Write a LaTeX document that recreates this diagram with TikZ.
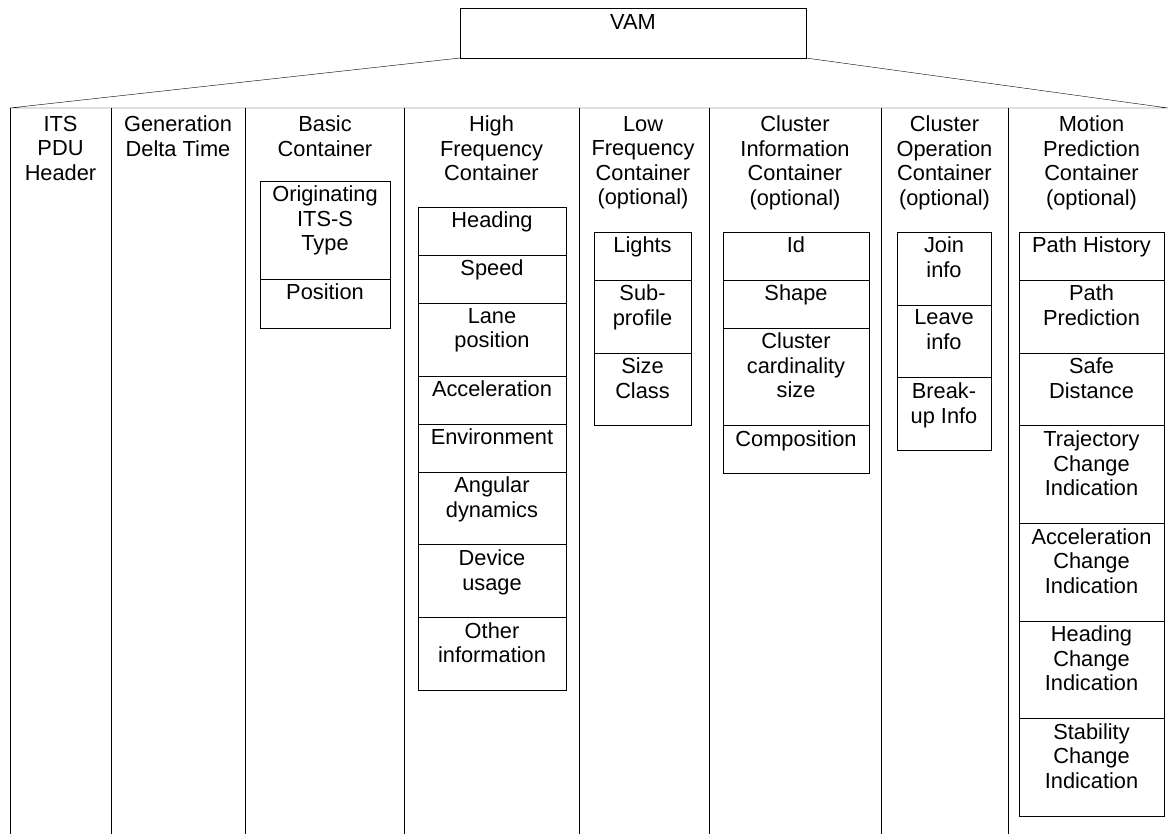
\documentclass[tikz,border=0pt]{standalone}
\usepackage{fontspec}
\setmainfont{Liberation Sans}
\usetikzlibrary{positioning}
\tikzset{
  x=1pt, y=-1pt,
  line width=1pt,
  every node/.style={font=\fontsize{21.8}{24.5}\selectfont},
  msg box/.style={draw, minimum width=346pt, minimum height=50pt, inner sep=0pt, outer sep=0pt},
  col head/.style={anchor=north, align=center, inner sep=0pt},
  field/.style={draw, inner sep=0pt, outer sep=0pt, minimum width=#1},
  field name/.style={anchor=north, align=center, inner sep=0pt, yshift=-5pt},
  fname/.style={label={[field name]north:{#1}}},
  h1/.style={minimum height=48pt},
  h2/.style={minimum height=72.8pt},
  h3/.style={minimum height=97.6pt},
}
\begin{document}
\begin{tikzpicture}
\useasboundingbox (0,0) rectangle (1170,834);
% message box and fan-out to the containers
\node[msg box, label={[field name, yshift=-1.5pt]north:VAM}] (vam) at (633,33) {};
\coordinate (tl) at (10,108);
\coordinate (tr) at (1168,108);
\draw (vam.south west) -- (tl) -- (tr) -- (vam.south east);
\foreach \x in {10,111,245,404,579,709,881,1008}
  \draw (\x,108) -- (\x,834);
% column headings
\node[col head] (its)  at (60.5,116) {ITS\\PDU\\Header};
\node[col head] (gdt)  at (178,116)  {Generation\\Delta Time};
\node[col head] (bc)   at (325,116)  {Basic\\Container};
\node[col head] (hfc)  at (491.5,116) {High\\Frequency\\Container};
\node[col head] (lfc)  at (643,116)  {Low\\Frequency\\Container\\(optional)};
\node[col head] (cic)  at (795,116)  {Cluster\\Information\\Container\\(optional)};
\node[col head] (coc)  at (944.5,116) {Cluster\\Operation\\Container\\(optional)};
\node[col head] (mpc)  at (1091.5,116) {Motion\\Prediction\\Container\\(optional)};
% basic container
\begin{scope}[cell/.style={field=130pt}]
\node[cell, minimum height=98pt, anchor=north, fname={Originating\\ITS-S\\Type}] (bc1) at (325,181) {};
\node[cell, minimum height=49pt, below=0pt of bc1, fname=Position] (bc2) {};
\end{scope}
% high frequency container
\begin{scope}[cell/.style={field=148pt}]
\node[cell, h1, anchor=north, fname=Heading] (hf1) at (492,207) {};
\node[cell, h1, below=0pt of hf1, fname=Speed] (hf2) {};
\node[cell, h2, below=0pt of hf2, fname={Lane\\position}] (hf3) {};
\node[cell, h1, below=0pt of hf3, fname=Acceleration] (hf4) {};
\node[cell, h1, below=0pt of hf4, fname=Environment] (hf5) {};
\node[cell, h2, below=0pt of hf5, fname={Angular\\dynamics}] (hf6) {};
\node[cell, h2, below=0pt of hf6, fname={Device\\usage}] (hf7) {};
\node[cell, h2, below=0pt of hf7, fname={Other\\information}] (hf8) {};
\end{scope}
% low frequency container
\begin{scope}[cell/.style={field=97pt}]
\node[cell, h1, anchor=north, fname=Lights] (lf1) at (642.5,232) {};
\node[cell, h2, below=0pt of lf1, fname={Sub-\\profile}] (lf2) {};
\node[cell, h2, below=0pt of lf2, fname={Size\\Class}] (lf3) {};
\end{scope}
% cluster information container
\begin{scope}[cell/.style={field=146pt}]
\node[cell, h1, anchor=north, fname=Id] (ci1) at (796,232) {};
\node[cell, h1, below=0pt of ci1, fname=Shape] (ci2) {};
\node[cell, h3, below=0pt of ci2, fname={Cluster\\cardinality\\size}] (ci3) {};
\node[cell, h1, below=0pt of ci3, fname=Composition] (ci4) {};
\end{scope}
% cluster operation container
\begin{scope}[cell/.style={field=94pt}]
\node[cell, h2, anchor=north, fname={Join\\info}] (co1) at (944,232) {};
\node[cell, h2, below=0pt of co1, fname={Leave\\info}] (co2) {};
\node[cell, h2, below=0pt of co2, fname={Break-\\up Info}] (co3) {};
\end{scope}
% motion prediction container
\begin{scope}[cell/.style={field=145pt}]
\node[cell, h1, anchor=north, fname={Path History}] (mp1) at (1091.5,232) {};
\node[cell, h2, below=0pt of mp1, fname={Path\\Prediction}] (mp2) {};
\node[cell, h2, below=0pt of mp2, fname={Safe\\Distance}] (mp3) {};
\node[cell, h3, below=0pt of mp3, fname={Trajectory\\Change\\Indication}] (mp4) {};
\node[cell, h3, below=0pt of mp4, fname={Acceleration\\Change\\Indication}] (mp5) {};
\node[cell, h3, below=0pt of mp5, fname={Heading\\Change\\Indication}] (mp6) {};
\node[cell, h3, below=0pt of mp6, fname={Stability\\Change\\Indication}] (mp7) {};
\end{scope}
\end{tikzpicture}
\end{document}
